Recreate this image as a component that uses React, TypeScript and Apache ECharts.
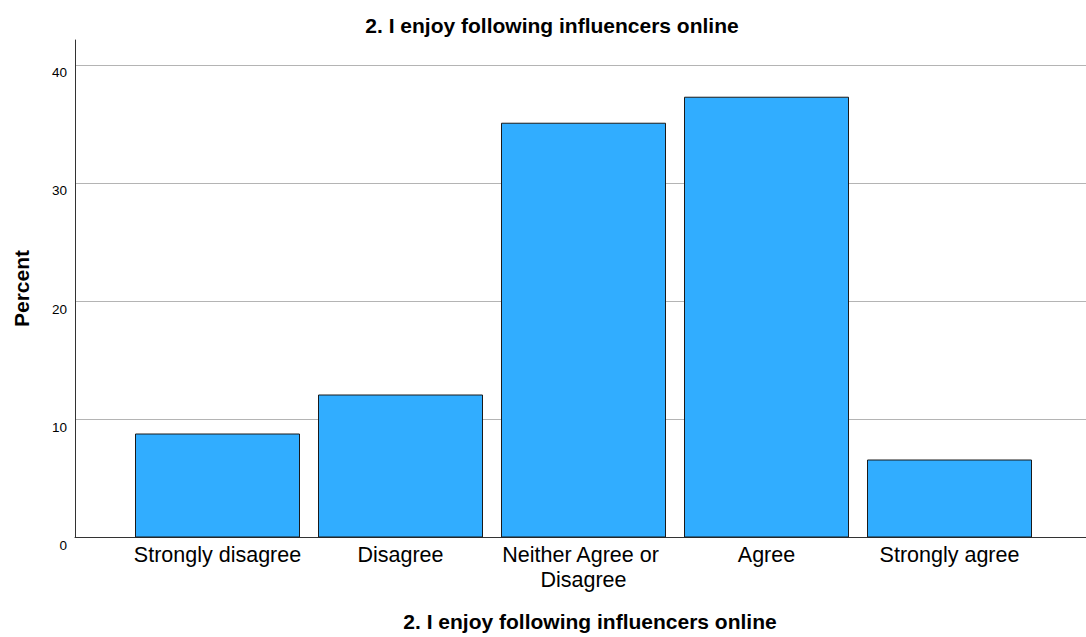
import React, { useEffect, useRef } from "react";
import * as echarts from "echarts";

const categories = ["Strongly disagree", "Disagree", "Neither Agree or Disagree", "Agree", "Strongly agree"];
const percents = [8.8, 12.1, 35.1, 37.3, 6.6];
const yTicks = [0, 10, 20, 30, 40];
const titleText = "2. I enjoy following influencers online";
const yTitle = "Percent";

export default function App() {
  const ref = useRef<HTMLDivElement>(null);
  useEffect(() => {
    if (!ref.current) return;
    const chart = echarts.init(ref.current, null, { renderer: "svg" });
    const font = "Liberation Sans, Arial, sans-serif";
    const boldFont = "bold 21px Liberation Sans, Arial, sans-serif";
    const yMax = 42.1;
    chart.setOption({
      animation: false,
      backgroundColor: "#ffffff",
      textStyle: { fontFamily: font },
      graphic: [
        {
          type: "text",
          x: 552,
          y: 25,
          style: { text: titleText, fill: "#000", font: boldFont, align: "center", verticalAlign: "middle" },
        },
        {
          type: "text",
          x: 590,
          y: 621,
          style: { text: titleText, fill: "#000", font: boldFont, align: "center", verticalAlign: "middle" },
        },
        {
          type: "text",
          x: 21,
          y: 288.5,
          rotation: Math.PI / 2,
          style: { text: yTitle, fill: "#000", font: boldFont, align: "center", verticalAlign: "middle" },
        },
      ],
      grid: [
        { left: 75, right: 0, top: 40, bottom: 99.5 },
        { left: 126, width: 915, top: 40, bottom: 99.5 },
      ],
      xAxis: [
        {
          type: "category",
          gridIndex: 0,
          data: categories,
          axisLine: { show: true, lineStyle: { color: "#333", width: 1 } },
          axisTick: { show: false },
          axisLabel: { show: false },
          splitLine: { show: false },
        },
        {
          type: "category",
          gridIndex: 1,
          data: categories,
          axisLine: { show: false },
          axisTick: { show: false },
          axisLabel: {
            show: true,
            interval: 0,
            fontSize: 21.5,
            color: "#000",
            fontFamily: font,
            margin: 5,
            lineHeight: 25,
            width: 180,
            overflow: "break",
          },
        },
      ],
      yAxis: [
        {
          type: "value",
          gridIndex: 0,
          min: 0,
          max: yMax,
          interval: 10,
          axisLine: { show: true, lineStyle: { color: "#333", width: 1 } },
          axisTick: { show: false },
          axisLabel: {
            fontSize: 13.5,
            color: "#000",
            fontFamily: font,
            margin: 8,
            verticalAlign: "top",
            padding: [1, 0, 0, 0],
            formatter: (v: number) => (yTicks.includes(v) ? String(v) : ""),
          },
          splitLine: { show: true, showMaxLine: false, lineStyle: { color: "#b4b4b4", width: 1 } },
        },
        {
          type: "value",
          gridIndex: 1,
          min: 0,
          max: yMax,
          interval: 10,
          show: false,
          splitLine: { show: false },
        },
      ],
      series: [
        {
          type: "bar",
          xAxisIndex: 1,
          yAxisIndex: 1,
          data: percents,
          barWidth: 165,
          itemStyle: { color: "#31adff", borderColor: "#1a1a1a", borderWidth: 1 },
        },
      ],
    });
    return () => chart.dispose();
  }, []);
  return <div ref={ref} style={{ width: 1086, height: 637, position: "absolute", left: 0, top: 0 }} />;
}
